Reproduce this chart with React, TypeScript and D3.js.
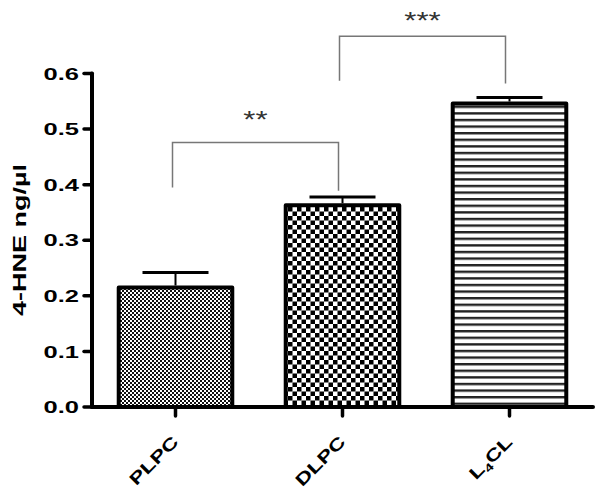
import React from "react";
import * as d3 from "d3";

const categories = ["PLPC", "DLPC", "L4CL"];
const means = [0.215, 0.363, 0.546];
const errors = [0.027, 0.015, 0.011];
const patterns = ["dots", "checker", "hlines"];
const yTicks = [0, 0.1, 0.2, 0.3, 0.4, 0.5, 0.6];

// significance brackets: pairs of category indices, bracket top, leg ends and star label (in y units)
const sigPairs = [[0, 1], [1, 2]];
const sigLabels = ["**", "***"];
const sigTop = [0.476, 0.667];
const sigLeftEnd = [0.395, 0.587];
const sigRightEnd = [0.389, 0.582];
const sigLabelY = [0.527, 0.705];

const W = 602, H = 493;
const FONT = "Liberation Sans, Arial, sans-serif";
const STRETCH = 1.5; // the original font is much wider than Arial

export default function App() {
  const x = d3.scaleBand<string>()
    .domain(categories)
    .range([92, 593])
    .paddingInner(0.32)
    .paddingOuter(0.16);
  const y = d3.scaleLinear().domain([0, 0.6]).range([407, 73.5]);
  const bw = x.bandwidth();
  const cx = (c: string) => (x(c) as number) + bw / 2;

  return (
    <svg width={W} height={H} style={{ position: "absolute", left: 0, top: 0, background: "#fff" }}>
      <defs>
        <pattern id="dots" patternUnits="userSpaceOnUse" width={4} height={4}>
          <rect width={4} height={4} fill="#fff" />
          <rect x={0} y={0} width={2} height={2} fill="#111" />
          <rect x={2} y={2} width={2} height={2} fill="#111" />
        </pattern>
        <pattern id="checker" patternUnits="userSpaceOnUse" width={9} height={9}>
          <rect width={9} height={9} fill="#fff" />
          <rect x={0} y={0} width={4.5} height={4.5} fill="#000" />
          <rect x={4.5} y={4.5} width={4.5} height={4.5} fill="#000" />
        </pattern>
        <pattern id="hlines" patternUnits="userSpaceOnUse" width={8} height={6.6}>
          <rect width={8} height={6.6} fill="#fff" />
          <rect x={0} y={0} width={8} height={2.4} fill="#222" />
        </pattern>
      </defs>

      {/* bars */}
      {categories.map((c, i) => (
        <rect key={c} x={x(c)} y={y(means[i])} width={bw} height={y(0) - y(means[i])}
          fill={`url(#${patterns[i]})`} stroke="#000" strokeWidth={4} strokeLinejoin="round" />
      ))}

      {/* error bars */}
      {categories.map((c, i) => (
        <g key={c} stroke="#000">
          <line x1={cx(c)} x2={cx(c)} y1={y(means[i]) - 2} y2={y(means[i] + errors[i])} strokeWidth={2} />
          <line x1={cx(c) - 33} x2={cx(c) + 33} y1={y(means[i] + errors[i])} y2={y(means[i] + errors[i])} strokeWidth={3} />
        </g>
      ))}

      {/* axes */}
      <g stroke="#000" strokeWidth={4} strokeLinecap="round">
        <line x1={92} x2={92} y1={y(0.6)} y2={y(0)} />
        <line x1={92} x2={593} y1={y(0)} y2={y(0)} />
        {yTicks.map(t => <line key={t} x1={84} x2={92} y1={y(t)} y2={y(t)} strokeWidth={3.5} />)}
        {categories.map(c => <line key={c} x1={cx(c)} x2={cx(c)} y1={y(0)} y2={y(0) + 9} strokeWidth={3.5} />)}
      </g>
      {yTicks.map(t => (
        <text key={t} transform={`translate(79,${y(t)}) scale(${STRETCH},1)`} dy="0.36em" textAnchor="end"
          fontFamily={FONT} fontWeight="bold" fontSize={17}>{d3.format(".1f")(t)}</text>
      ))}
      <text transform={`translate(26,240) rotate(-90) scale(${STRETCH},1)`} textAnchor="middle" fontFamily={FONT}
        fontWeight="bold" fontSize={18}>4-HNE ng/µl</text>

      {categories.map(c => (
        <text key={c} transform={`translate(${cx(c) + 4},${y(0) + 36}) rotate(-45) scale(1.35,1)`}
          textAnchor="end" fontFamily={FONT} fontWeight="bold" fontSize={17}>
          {c === "L4CL" ? (<>L<tspan fontSize={11} dy={4}>4</tspan><tspan dy={-4}>CL</tspan></>) : c}
        </text>
      ))}

      {/* significance brackets */}
      {sigPairs.map(([a, b], i) => {
        const x1 = cx(categories[a]) - 3, x2 = cx(categories[b]) - 4;
        return (
          <g key={i}>
            <path d={`M${x1},${y(sigLeftEnd[i])}V${y(sigTop[i])}H${x2}V${y(sigRightEnd[i])}`}
              fill="none" stroke="#777" strokeWidth={1.5} />
            <text transform={`translate(${(x1 + x2) / 2},${y(sigLabelY[i]) + 14}) scale(1.3,1)`}
              textAnchor="middle" fontFamily={FONT} fontSize={24} fill="#333">{sigLabels[i]}</text>
          </g>
        );
      })}
    </svg>
  );
}
